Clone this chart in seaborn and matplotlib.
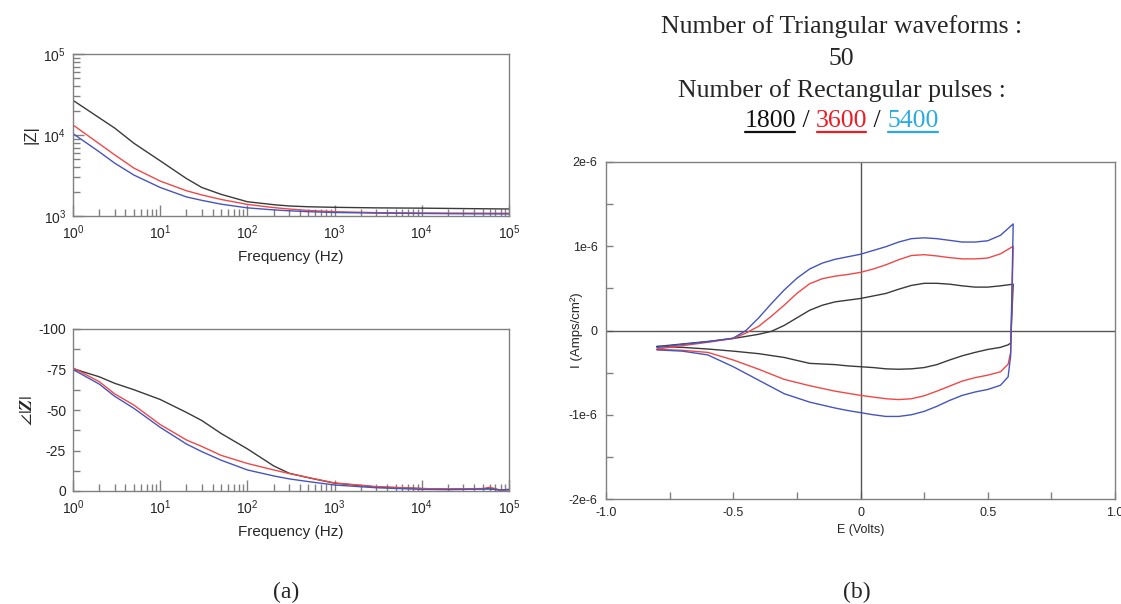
import numpy as np
import pandas as pd
import matplotlib
matplotlib.use("Agg")
import matplotlib.pyplot as plt
import seaborn as sns
from matplotlib.ticker import LogLocator, NullFormatter, MultipleLocator, FixedLocator, FixedFormatter
from matplotlib.lines import Line2D

# ---------------- data ----------------
series_names = ["1800", "3600", "5400"]
line_colors = ["#3a3a3a", "#f04848", "#4655be"]
title_colors = ["#111111", "#ed1c24", "#29abe2"]

freq_mag = [1, 2, 3, 5, 10, 20, 30, 50, 100, 200, 300, 500, 1e3, 3e3, 1e4, 3e4, 1e5]
zmag_1800 = [26800, 16300, 12200, 7900, 4800, 2900, 2250, 1850, 1500, 1380, 1330, 1300, 1280, 1260, 1250, 1235, 1220]
zmag_3600 = [13300, 7800, 5700, 3900, 2700, 2050, 1820, 1600, 1390, 1270, 1220, 1170, 1130, 1100, 1090, 1085, 1080]
zmag_5400 = [10400, 6200, 4500, 3200, 2250, 1720, 1560, 1400, 1260, 1190, 1160, 1130, 1105, 1085, 1075, 1065, 1060]

freq_phase = [1, 2, 3, 5, 10, 20, 30, 50, 100, 200, 300, 500, 1e3, 3e3, 1e4, 2e4, 5e4, 6e4, 8e4, 1e5]
phase_1800 = [-75.5, -70.5, -66.5, -62.5, -56.5, -48.5, -43.5, -35.5, -26, -15.5, -11.0, -8.2, -4.8, -2.5, -1.5, -1.2, -1.3, -1.3, -0.6, -1.0]
phase_3600 = [-76, -67.5, -60, -53, -41, -31.5, -27.5, -22, -17, -13, -10.8, -8.3, -5, -2.7, -1.5, -1.3, -1.5, -2.3, -0.6, -0.8]
phase_5400 = [-75, -66, -58.5, -51, -39.3, -29, -24.3, -19, -13, -9.3, -7.5, -5.8, -3.7, -2, -1, -0.8, -1.2, -1.5, -0.5, -0.8]

# CV (anodic sweep, then cathodic sweep), current in 1e-6 A/cm2
e_up = [-0.8, -0.7, -0.6, -0.5, -0.45, -0.4, -0.35, -0.3, -0.25, -0.2, -0.15, -0.1, -0.05,
        0.0, 0.05, 0.1, 0.15, 0.2, 0.25, 0.3, 0.35, 0.4, 0.45, 0.5, 0.55, 0.6]
i_up_1800 = [-0.19, -0.16, -0.13, -0.095, -0.07, -0.045, -0.01, 0.06, 0.15, 0.24, 0.30, 0.34, 0.36,
             0.38, 0.41, 0.44, 0.49, 0.535, 0.56, 0.56, 0.55, 0.53, 0.515, 0.515, 0.53, 0.55]
i_up_3600 = [-0.22, -0.18, -0.14, -0.095, -0.03, 0.05, 0.17, 0.30, 0.44, 0.555, 0.615, 0.645, 0.665,
             0.69, 0.73, 0.78, 0.84, 0.89, 0.90, 0.885, 0.865, 0.85, 0.85, 0.86, 0.91, 1.0]
i_up_5400 = [-0.20, -0.165, -0.134, -0.09, 0.0, 0.15, 0.32, 0.48, 0.62, 0.73, 0.80, 0.845, 0.875,
             0.905, 0.95, 0.995, 1.05, 1.09, 1.10, 1.09, 1.07, 1.05, 1.05, 1.065, 1.13, 1.265]

e_down = [0.59, 0.58, 0.55, 0.5, 0.45, 0.4, 0.35, 0.3, 0.25, 0.2, 0.15, 0.1, 0.05, 0.0,
          -0.05, -0.1, -0.2, -0.3, -0.4, -0.5, -0.6, -0.7, -0.8]
i_down_1800 = [-0.15, -0.17, -0.20, -0.225, -0.26, -0.30, -0.35, -0.405, -0.44, -0.455, -0.46, -0.455,
               -0.44, -0.43, -0.42, -0.405, -0.39, -0.32, -0.275, -0.245, -0.22, -0.20, -0.19]
i_down_3600 = [-0.26, -0.40, -0.49, -0.53, -0.56, -0.60, -0.66, -0.72, -0.775, -0.81, -0.82, -0.81,
               -0.79, -0.77, -0.745, -0.72, -0.655, -0.58, -0.46, -0.35, -0.26, -0.235, -0.225]
i_down_5400 = [-0.30, -0.55, -0.65, -0.70, -0.73, -0.77, -0.83, -0.90, -0.96, -1.0, -1.02, -1.02,
               -1.0, -0.975, -0.95, -0.92, -0.85, -0.75, -0.59, -0.43, -0.29, -0.245, -0.23]

title_line1 = "Number of Triangular waveforms :"
title_line2 = "50"
title_line3 = "Number of Rectangular pulses :"

# ---------------- tables ----------------
mag_df = pd.concat([pd.DataFrame({"freq": freq_mag, "z": z, "series": s})
                    for s, z in zip(series_names, [zmag_1800, zmag_3600, zmag_5400])])
ph_df = pd.concat([pd.DataFrame({"freq": freq_phase, "p": p, "series": s})
                   for s, p in zip(series_names, [phase_1800, phase_3600, phase_5400])])
cv_parts = []
for s, iu, idn in zip(series_names, [i_up_1800, i_up_3600, i_up_5400],
                      [i_down_1800, i_down_3600, i_down_5400]):
    cv_parts.append(pd.DataFrame({"E": list(e_up) + list(e_down),
                                  "I": [v * 1e-6 for v in list(iu) + list(idn)],
                                  "series": s}))
cv_df = pd.concat(cv_parts, ignore_index=True)

palette = dict(zip(series_names, line_colors))

# ---------------- style ----------------
sns.set_theme(style="white")
plt.rcParams["font.family"] = ["Liberation Sans", "DejaVu Sans"]
plt.rcParams["mathtext.fontset"] = "custom"
plt.rcParams["mathtext.rm"] = "Liberation Sans"
plt.rcParams["mathtext.it"] = "Liberation Sans:italic"
plt.rcParams["mathtext.bf"] = "Liberation Sans:bold"

W, H = 1121, 604
fig = plt.figure(figsize=(W / 100, H / 100), dpi=100)
fig.patch.set_facecolor("white")

spine_c = "#808080"

def px_axes(l, t, r, b):
    return fig.add_axes([l / W, 1 - b / H, (r - l) / W, (b - t) / H])

ax1 = px_axes(73, 54, 509, 216)
ax2 = px_axes(73, 329, 509, 491)
ax3 = px_axes(606, 162, 1115, 499)

for ax in (ax1, ax2, ax3):
    ax.set_facecolor("white")
    for sp in ax.spines.values():
        sp.set_color(spine_c)
        sp.set_linewidth(1.0)

# ---- |Z| ----
sns.lineplot(data=mag_df, x="freq", y="z", hue="series", palette=palette, ax=ax1,
             legend=False, linewidth=1.0, estimator=None)
ax1.set_xscale("log")
ax1.set_yscale("log")
ax1.set_xlim(1, 1e5)
ax1.set_ylim(1e3, 1e5)

# ---- phase ----
sns.lineplot(data=ph_df, x="freq", y="p", hue="series", palette=palette, ax=ax2,
             legend=False, linewidth=1.0, estimator=None)
ax2.set_xscale("log")
ax2.set_xlim(1, 1e5)
ax2.set_ylim(0, -100)
ax2.yaxis.set_major_locator(FixedLocator([0, -25, -50, -75, -100]))
ax2.yaxis.set_major_formatter(FixedFormatter(["0", "-25", "-50", "-75", "-100"]))
ax2.yaxis.set_minor_locator(FixedLocator([-12.5, -37.5, -62.5, -87.5]))

for ax in (ax1, ax2):
    ax.xaxis.set_major_locator(LogLocator(base=10, numticks=10))
    ax.xaxis.set_minor_locator(LogLocator(base=10, subs=np.arange(2, 10), numticks=10))
    ax.xaxis.set_minor_formatter(NullFormatter())
    ax.set_xlabel("Frequency (Hz)", fontsize=11, labelpad=6)
    ax.tick_params(axis="both", which="major", direction="in", length=8, width=1,
                   color=spine_c, labelsize=10, pad=5, left=True, bottom=True)
    ax.tick_params(axis="both", which="minor", direction="in", length=5, width=1,
                   color=spine_c, left=True, bottom=True)

ax1.yaxis.set_major_locator(LogLocator(base=10, numticks=10))
ax1.yaxis.set_minor_locator(LogLocator(base=10, subs=np.arange(2, 10), numticks=10))
ax1.yaxis.set_minor_formatter(NullFormatter())
ax1.set_ylabel("|Z|", fontsize=12)
ax1.yaxis.set_label_coords((38 - 73) / 436, 0.5)
ax2.set_ylabel(r"$\angle|\mathbfit{Z}|$", fontsize=13, math_fontfamily="stix")
ax2.yaxis.set_label_coords((36 - 73) / 436, 0.5)
ax2.tick_params(axis="y", which="major", length=5)

# ---- CV ----
ax3.axhline(0, color="#555555", linewidth=1.0, zorder=1)
ax3.axvline(0, color="#555555", linewidth=1.0, zorder=1)
sns.lineplot(data=cv_df, x="E", y="I", hue="series", palette=palette, ax=ax3,
             legend=False, linewidth=1.0, estimator=None, sort=False)
ax3.set_xlim(-1.0, 1.0)
ax3.set_ylim(-2e-6, 2e-6)
ax3.xaxis.set_major_locator(FixedLocator([-1.0, -0.5, 0.0, 0.5, 1.0]))
ax3.xaxis.set_major_formatter(FixedFormatter(["-1.0", "-0.5", "0", "0.5", "1.0"]))
ax3.xaxis.set_minor_locator(FixedLocator([-0.75, -0.25, 0.25, 0.75]))
ax3.yaxis.set_major_locator(FixedLocator([-2e-6, -1e-6, 0, 1e-6, 2e-6]))
ax3.yaxis.set_major_formatter(FixedFormatter(["-2e-6", "-1e-6", "0", "1e-6", "2e-6"]))
ax3.yaxis.set_minor_locator(FixedLocator([-1.5e-6, -0.5e-6, 0.5e-6, 1.5e-6]))
ax3.tick_params(axis="both", which="both", direction="in", length=5, width=1,
                color=spine_c, labelsize=9, pad=6, left=True, bottom=True)
ax3.set_xlabel("E (Volts)", fontsize=9, labelpad=3)
ax3.set_ylabel("I (Amps/cm²)", fontsize=9.5)
ax3.yaxis.set_label_coords((583 - 606) / 509, 0.5)

# ---------------- titles ----------------
serif = ["Liberation Serif", "DejaVu Serif"]
tfs = 18.5
cx = 841.5
fig.text(cx / W, 1 - 33 / H, title_line1, ha="center", va="baseline", fontsize=tfs, family=serif)
fig.text(cx / W, 1 - 65 / H, title_line2, ha="center", va="baseline", fontsize=tfs, family=serif)
fig.text(cx / W, 1 - 97 / H, title_line3, ha="center", va="baseline", fontsize=tfs, family=serif)

pieces = [(series_names[0], title_colors[0], True), (" / ", "#111111", False),
          (series_names[1], title_colors[1], True), (" / ", "#111111", False),
          (series_names[2], title_colors[2], True)]
base4 = 1 - 127 / H
texts = [fig.text(0, base4, s, color=c, ha="left", va="baseline", fontsize=tfs, family=serif)
         for s, c, u in pieces]
fig.canvas.draw()
rend = fig.canvas.get_renderer()
widths = [t.get_window_extent(rend).width for t in texts]
x = cx - sum(widths) / 2
for t, w, (s, c, u) in zip(texts, widths, pieces):
    t.set_x(x / W)
    if u:
        fig.add_artist(Line2D([(x + 1) / W, (x + w - 1) / W], [1 - 132 / H] * 2,
                              transform=fig.transFigure, color=c, linewidth=1.6))
    x += w

fig.text(286 / W, 1 - 592 / H, "(a)", ha="center", va="center", fontsize=17, family=serif)
fig.text(857 / W, 1 - 592 / H, "(b)", ha="center", va="center", fontsize=17, family=serif)

fig.savefig("out.png", dpi=100, facecolor="white")
